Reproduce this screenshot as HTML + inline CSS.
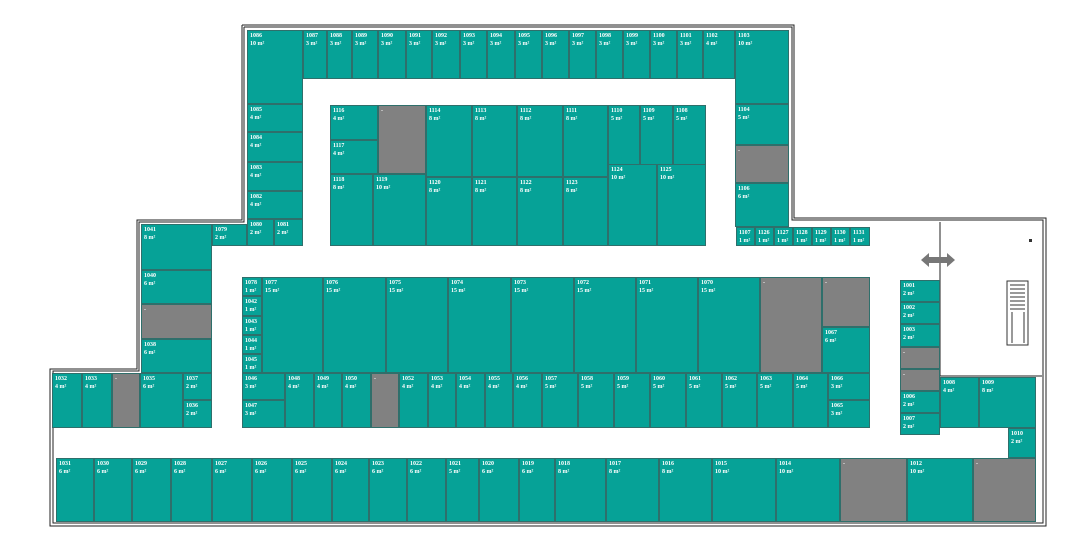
<!DOCTYPE html>
<html><head><meta charset="utf-8"><style>
body{margin:0;width:1080px;height:547px;background:#fff;position:relative;overflow:hidden}
.r{position:absolute;background:#06a297;border:1px solid #2f6f6b;box-sizing:border-box;color:#fff;font:bold 6px/8px "Liberation Serif",serif;padding:1px 2px;white-space:nowrap;overflow:hidden}
.r b{display:block}
.g{background:#818181}
svg{position:absolute;left:0;top:0}
</style></head><body>
<svg width="1080" height="547">
<g fill="none" stroke="#222" stroke-width="1">
<polyline points="244,27 792,27 792,220 1043,220 1043,523 53,523 53,371 139,371 139,222 244,222 244,27"/>
<polyline points="242,25 794,25 794,218 1046,218 1046,526 50,526 50,369 137,369 137,220 242,220 242,25"/>
<polyline points="940,222 940,376 1042,376"/>
</g>
<polygon points="921,260 929,253 929,257 947,257 947,253 955,260 947,267 947,263 929,263 929,267" fill="#777"/>
<g stroke="#333" fill="none" stroke-width="1">
<rect x="1007" y="281" width="21" height="64"/>
<line x1="1010" y1="285" x2="1025" y2="285"/><line x1="1010" y1="289" x2="1025" y2="289"/><line x1="1010" y1="293" x2="1025" y2="293"/><line x1="1010" y1="297" x2="1025" y2="297"/><line x1="1010" y1="301" x2="1025" y2="301"/><line x1="1010" y1="305" x2="1025" y2="305"/><line x1="1010" y1="309" x2="1025" y2="309"/>
<line x1="1012" y1="312" x2="1012" y2="343"/><line x1="1024" y1="312" x2="1024" y2="343"/>
</g>
<rect x="1029" y="239" width="3" height="3" fill="#333"/>
</svg>
<!-- top row -->
<div class="r" style="left:247px;top:30px;width:56px;height:74px"><b>1086</b>10 m²</div>
<div class="r" style="left:303px;top:30px;width:24px;height:49px"><b>1087</b>3 m²</div>
<div class="r" style="left:327px;top:30px;width:25px;height:49px"><b>1088</b>3 m²</div>
<div class="r" style="left:352px;top:30px;width:26px;height:49px"><b>1089</b>3 m²</div>
<div class="r" style="left:378px;top:30px;width:28px;height:49px"><b>1090</b>3 m²</div>
<div class="r" style="left:406px;top:30px;width:26px;height:49px"><b>1091</b>3 m²</div>
<div class="r" style="left:432px;top:30px;width:28px;height:49px"><b>1092</b>3 m²</div>
<div class="r" style="left:460px;top:30px;width:27px;height:49px"><b>1093</b>3 m²</div>
<div class="r" style="left:487px;top:30px;width:28px;height:49px"><b>1094</b>3 m²</div>
<div class="r" style="left:515px;top:30px;width:27px;height:49px"><b>1095</b>3 m²</div>
<div class="r" style="left:542px;top:30px;width:27px;height:49px"><b>1096</b>3 m²</div>
<div class="r" style="left:569px;top:30px;width:27px;height:49px"><b>1097</b>3 m²</div>
<div class="r" style="left:596px;top:30px;width:27px;height:49px"><b>1098</b>3 m²</div>
<div class="r" style="left:623px;top:30px;width:27px;height:49px"><b>1099</b>3 m²</div>
<div class="r" style="left:650px;top:30px;width:27px;height:49px"><b>1100</b>3 m²</div>
<div class="r" style="left:677px;top:30px;width:26px;height:49px"><b>1101</b>3 m²</div>
<div class="r" style="left:703px;top:30px;width:32px;height:49px"><b>1102</b>4 m²</div>
<div class="r" style="left:735px;top:30px;width:54px;height:74px"><b>1103</b>10 m²</div>
<!-- left col -->
<div class="r" style="left:247px;top:104px;width:56px;height:28px"><b>1085</b>4 m²</div>
<div class="r" style="left:247px;top:132px;width:56px;height:30px"><b>1084</b>4 m²</div>
<div class="r" style="left:247px;top:162px;width:56px;height:29px"><b>1083</b>4 m²</div>
<div class="r" style="left:247px;top:191px;width:56px;height:28px"><b>1082</b>4 m²</div>
<div class="r" style="left:247px;top:219px;width:27px;height:27px"><b>1080</b>2 m²</div>
<div class="r" style="left:274px;top:219px;width:29px;height:27px"><b>1081</b>2 m²</div>
<!-- right col -->
<div class="r" style="left:735px;top:104px;width:54px;height:41px"><b>1104</b>5 m²</div>
<div class="r g" style="left:735px;top:145px;width:54px;height:38px">-</div>
<div class="r" style="left:735px;top:183px;width:54px;height:44px"><b>1106</b>6 m²</div>
<div class="r" style="left:736px;top:227px;width:19px;height:19px"><b>1107</b>1 m²</div>
<div class="r" style="left:755px;top:227px;width:19px;height:19px"><b>1126</b>1 m²</div>
<div class="r" style="left:774px;top:227px;width:19px;height:19px"><b>1127</b>1 m²</div>
<div class="r" style="left:793px;top:227px;width:19px;height:19px"><b>1128</b>1 m²</div>
<div class="r" style="left:812px;top:227px;width:19px;height:19px"><b>1129</b>1 m²</div>
<div class="r" style="left:831px;top:227px;width:19px;height:19px"><b>1130</b>1 m²</div>
<div class="r" style="left:850px;top:227px;width:20px;height:19px"><b>1131</b>1 m²</div>
<!-- inner block -->
<div class="r" style="left:330px;top:105px;width:48px;height:35px"><b>1116</b>4 m²</div>
<div class="r" style="left:330px;top:140px;width:48px;height:34px"><b>1117</b>4 m²</div>
<div class="r g" style="left:378px;top:105px;width:48px;height:69px">-</div>
<div class="r" style="left:330px;top:174px;width:43px;height:72px"><b>1118</b>8 m²</div>
<div class="r" style="left:373px;top:174px;width:53px;height:72px"><b>1119</b>10 m²</div>
<div class="r" style="left:426px;top:105px;width:46px;height:72px"><b>1114</b>8 m²</div>
<div class="r" style="left:472px;top:105px;width:45px;height:72px"><b>1113</b>8 m²</div>
<div class="r" style="left:517px;top:105px;width:46px;height:72px"><b>1112</b>8 m²</div>
<div class="r" style="left:563px;top:105px;width:45px;height:72px"><b>1111</b>8 m²</div>
<div class="r" style="left:426px;top:177px;width:46px;height:69px"><b>1120</b>8 m²</div>
<div class="r" style="left:472px;top:177px;width:45px;height:69px"><b>1121</b>8 m²</div>
<div class="r" style="left:517px;top:177px;width:46px;height:69px"><b>1122</b>8 m²</div>
<div class="r" style="left:563px;top:177px;width:45px;height:69px"><b>1123</b>8 m²</div>
<div class="r" style="left:608px;top:105px;width:32px;height:62px"><b>1110</b>5 m²</div>
<div class="r" style="left:640px;top:105px;width:33px;height:62px"><b>1109</b>5 m²</div>
<div class="r" style="left:673px;top:105px;width:33px;height:62px"><b>1108</b>5 m²</div>
<div class="r" style="left:608px;top:164px;width:49px;height:82px"><b>1124</b>10 m²</div>
<div class="r" style="left:657px;top:164px;width:49px;height:82px"><b>1125</b>10 m²</div>
<!-- left wing -->
<div class="r" style="left:141px;top:224px;width:71px;height:46px"><b>1041</b>8 m²</div>
<div class="r" style="left:212px;top:224px;width:35px;height:22px"><b>1079</b>2 m²</div>
<div class="r" style="left:141px;top:270px;width:71px;height:34px"><b>1040</b>6 m²</div>
<div class="r g" style="left:141px;top:304px;width:71px;height:35px">-</div>
<div class="r" style="left:141px;top:339px;width:71px;height:34px"><b>1038</b>6 m²</div>
<div class="r" style="left:52px;top:373px;width:30px;height:55px"><b>1032</b>4 m²</div>
<div class="r" style="left:82px;top:373px;width:30px;height:55px"><b>1033</b>4 m²</div>
<div class="r g" style="left:112px;top:373px;width:28px;height:55px">-</div>
<div class="r" style="left:140px;top:373px;width:43px;height:55px"><b>1035</b>6 m²</div>
<div class="r" style="left:183px;top:373px;width:29px;height:27px"><b>1037</b>2 m²</div>
<div class="r" style="left:183px;top:400px;width:29px;height:28px"><b>1036</b>2 m²</div>
<!-- middle block -->
<div class="r" style="left:242px;top:277px;width:20px;height:19px"><b>1078</b>1 m²</div>
<div class="r" style="left:242px;top:296px;width:20px;height:20px"><b>1042</b>1 m²</div>
<div class="r" style="left:242px;top:316px;width:20px;height:19px"><b>1043</b>1 m²</div>
<div class="r" style="left:242px;top:335px;width:20px;height:19px"><b>1044</b>1 m²</div>
<div class="r" style="left:242px;top:354px;width:20px;height:19px"><b>1045</b>1 m²</div>
<div class="r" style="left:262px;top:277px;width:61px;height:96px"><b>1077</b>15 m²</div>
<div class="r" style="left:323px;top:277px;width:63px;height:96px"><b>1076</b>15 m²</div>
<div class="r" style="left:386px;top:277px;width:62px;height:96px"><b>1075</b>15 m²</div>
<div class="r" style="left:448px;top:277px;width:63px;height:96px"><b>1074</b>15 m²</div>
<div class="r" style="left:511px;top:277px;width:63px;height:96px"><b>1073</b>15 m²</div>
<div class="r" style="left:574px;top:277px;width:62px;height:96px"><b>1072</b>15 m²</div>
<div class="r" style="left:636px;top:277px;width:62px;height:96px"><b>1071</b>15 m²</div>
<div class="r" style="left:698px;top:277px;width:62px;height:96px"><b>1070</b>15 m²</div>
<div class="r g" style="left:760px;top:277px;width:62px;height:96px">-</div>
<div class="r g" style="left:822px;top:277px;width:48px;height:50px">-</div>
<div class="r" style="left:822px;top:327px;width:48px;height:46px"><b>1067</b>6 m²</div>
<div class="r" style="left:242px;top:373px;width:43px;height:27px"><b>1046</b>3 m²</div>
<div class="r" style="left:242px;top:400px;width:43px;height:28px"><b>1047</b>3 m²</div>
<div class="r" style="left:285px;top:373px;width:29px;height:55px"><b>1048</b>4 m²</div>
<div class="r" style="left:314px;top:373px;width:28px;height:55px"><b>1049</b>4 m²</div>
<div class="r" style="left:342px;top:373px;width:29px;height:55px"><b>1050</b>4 m²</div>
<div class="r g" style="left:371px;top:373px;width:28px;height:55px">-</div>
<div class="r" style="left:399px;top:373px;width:29px;height:55px"><b>1052</b>4 m²</div>
<div class="r" style="left:428px;top:373px;width:28px;height:55px"><b>1053</b>4 m²</div>
<div class="r" style="left:456px;top:373px;width:29px;height:55px"><b>1054</b>4 m²</div>
<div class="r" style="left:485px;top:373px;width:28px;height:55px"><b>1055</b>4 m²</div>
<div class="r" style="left:513px;top:373px;width:29px;height:55px"><b>1056</b>4 m²</div>
<div class="r" style="left:542px;top:373px;width:36px;height:55px"><b>1057</b>5 m²</div>
<div class="r" style="left:578px;top:373px;width:36px;height:55px"><b>1058</b>5 m²</div>
<div class="r" style="left:614px;top:373px;width:36px;height:55px"><b>1059</b>5 m²</div>
<div class="r" style="left:650px;top:373px;width:36px;height:55px"><b>1060</b>5 m²</div>
<div class="r" style="left:686px;top:373px;width:36px;height:55px"><b>1061</b>5 m²</div>
<div class="r" style="left:722px;top:373px;width:35px;height:55px"><b>1062</b>5 m²</div>
<div class="r" style="left:757px;top:373px;width:36px;height:55px"><b>1063</b>5 m²</div>
<div class="r" style="left:793px;top:373px;width:35px;height:55px"><b>1064</b>5 m²</div>
<div class="r" style="left:828px;top:373px;width:42px;height:27px"><b>1066</b>3 m²</div>
<div class="r" style="left:828px;top:400px;width:42px;height:28px"><b>1065</b>3 m²</div>
<!-- right cluster -->
<div class="r" style="left:900px;top:280px;width:40px;height:22px"><b>1001</b>2 m²</div>
<div class="r" style="left:900px;top:302px;width:40px;height:22px"><b>1002</b>2 m²</div>
<div class="r" style="left:900px;top:324px;width:40px;height:23px"><b>1003</b>2 m²</div>
<div class="r g" style="left:900px;top:347px;width:40px;height:22px">-</div>
<div class="r g" style="left:900px;top:369px;width:40px;height:22px">-</div>
<div class="r" style="left:900px;top:391px;width:40px;height:22px"><b>1006</b>2 m²</div>
<div class="r" style="left:900px;top:413px;width:40px;height:22px"><b>1007</b>2 m²</div>
<div class="r" style="left:940px;top:377px;width:39px;height:51px"><b>1008</b>4 m²</div>
<div class="r" style="left:979px;top:377px;width:57px;height:51px"><b>1009</b>8 m²</div>
<div class="r" style="left:1008px;top:428px;width:28px;height:30px"><b>1010</b>2 m²</div>
<!-- bottom row -->
<div class="r" style="left:56px;top:458px;width:38px;height:64px"><b>1031</b>6 m²</div>
<div class="r" style="left:94px;top:458px;width:38px;height:64px"><b>1030</b>6 m²</div>
<div class="r" style="left:132px;top:458px;width:39px;height:64px"><b>1029</b>6 m²</div>
<div class="r" style="left:171px;top:458px;width:41px;height:64px"><b>1028</b>6 m²</div>
<div class="r" style="left:212px;top:458px;width:40px;height:64px"><b>1027</b>6 m²</div>
<div class="r" style="left:252px;top:458px;width:40px;height:64px"><b>1026</b>6 m²</div>
<div class="r" style="left:292px;top:458px;width:40px;height:64px"><b>1025</b>6 m²</div>
<div class="r" style="left:332px;top:458px;width:37px;height:64px"><b>1024</b>6 m²</div>
<div class="r" style="left:369px;top:458px;width:38px;height:64px"><b>1023</b>6 m²</div>
<div class="r" style="left:407px;top:458px;width:39px;height:64px"><b>1022</b>6 m²</div>
<div class="r" style="left:446px;top:458px;width:33px;height:64px"><b>1021</b>5 m²</div>
<div class="r" style="left:479px;top:458px;width:40px;height:64px"><b>1020</b>6 m²</div>
<div class="r" style="left:519px;top:458px;width:36px;height:64px"><b>1019</b>6 m²</div>
<div class="r" style="left:555px;top:458px;width:51px;height:64px"><b>1018</b>8 m²</div>
<div class="r" style="left:606px;top:458px;width:53px;height:64px"><b>1017</b>8 m²</div>
<div class="r" style="left:659px;top:458px;width:53px;height:64px"><b>1016</b>8 m²</div>
<div class="r" style="left:712px;top:458px;width:64px;height:64px"><b>1015</b>10 m²</div>
<div class="r" style="left:776px;top:458px;width:64px;height:64px"><b>1014</b>10 m²</div>
<div class="r g" style="left:840px;top:458px;width:67px;height:64px">-</div>
<div class="r" style="left:907px;top:458px;width:66px;height:64px"><b>1012</b>10 m²</div>
<div class="r g" style="left:973px;top:458px;width:63px;height:64px">-</div>
</body></html>
